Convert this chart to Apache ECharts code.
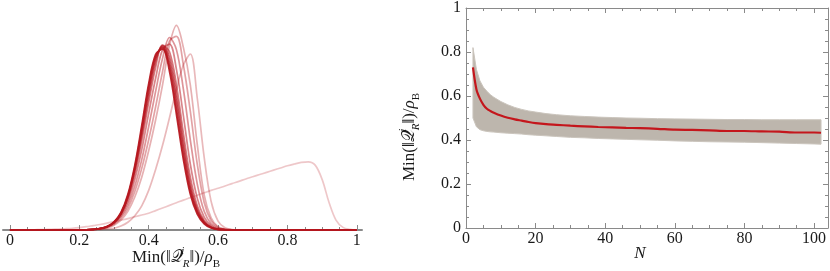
<!DOCTYPE html>
<html><head><meta charset="utf-8">
<script src="https://cdn.jsdelivr.net/npm/echarts@6/dist/echarts.min.js"></script>
<style>html,body{margin:0;padding:0;background:#fff}#c{width:830px;height:271px}</style>
</head><body><div id="c"></div>
<script>
// ---------- Left panel: distributions ----------
const curveX = [0,0.02,0.04,0.06,0.08,0.1,0.12,0.14,0.16,0.18,0.2,0.22,0.24,0.26,0.28,0.3,0.32,0.34,0.36,0.38,0.4,0.42,0.44,0.46,0.48,0.5,0.52,0.54,0.56,0.58,0.6,0.62,0.64,0.66,0.68,0.7,0.72,0.74,0.76,0.78,0.8,0.82,0.84,0.86,0.88,0.9,0.92,0.94,0.96,0.98,1];
const curveA = [0,0,0.005,0.01,0.015,0.02,0.03,0.045,0.06,0.08,0.11,0.15,0.2,0.25,0.31,0.38,0.45,0.52,0.6,0.68,0.76,0.88,1.0,1.12,1.24,1.36,1.47,1.58,1.69,1.8,1.9,2.0,2.11,2.21,2.32,2.42,2.52,2.62,2.72,2.82,2.92,3.0,3.07,3.1,2.95,2.3,1.25,0.45,0.12,0.03,0];
const curveB = [0,0,0,0,0,0,0,0,0,0,0,0.01,0.02,0.03,0.05,0.08,0.18,0.35,0.65,1.1,1.8,2.75,3.85,5.1,6.4,7.5,8.0,6.0,3.3,1.3,0.4,0.1,0.02,0,0,0,0,0,0,0,0,0,0,0,0,0,0,0,0,0,0];
const curveC1 = [0,0,0,0,0,0,0,0,0,0,0,0.01,0.02,0.05,0.1,0.22,0.45,0.85,1.5,2.4,3.6,5.0,6.6,8.4,9.3,8.3,6.6,3.9,1.6,0.55,0.15,0.04,0.01,0,0,0,0,0,0,0,0,0,0,0,0,0,0,0,0,0,0];
const curveC2 = [0,0,0,0,0,0,0,0,0,0,0,0.01,0.02,0.05,0.12,0.26,0.55,1.0,1.75,2.8,4.1,5.6,7.2,8.6,8.8,7.5,5.4,3.0,1.25,0.42,0.12,0.03,0.01,0,0,0,0,0,0,0,0,0,0,0,0,0,0,0,0,0,0];
const curveC3 = [0,0,0,0,0,0,0,0,0,0,0,0.01,0.02,0.05,0.13,0.3,0.62,1.15,2.0,3.2,4.7,6.3,7.8,8.75,8.2,6.4,4.1,2.1,0.85,0.28,0.08,0.02,0,0,0,0,0,0,0,0,0,0,0,0,0,0,0,0,0,0,0];
const curveC4 = [0,0,0,0,0,0,0,0,0,0,0,0.01,0.02,0.06,0.14,0.32,0.68,1.3,2.3,3.65,5.3,6.9,8.2,8.45,7.3,5.2,3.0,1.45,0.58,0.2,0.05,0.01,0,0,0,0,0,0,0,0,0,0,0,0,0,0,0,0,0,0,0];
const curveC5 = [0,0,0,0,0,0,0,0,0,0,0,0.01,0.02,0.06,0.15,0.34,0.72,1.42,2.55,4.05,5.8,7.4,8.4,8.1,6.6,4.4,2.4,1.1,0.43,0.14,0.04,0.01,0,0,0,0,0,0,0,0,0,0,0,0,0,0,0,0,0,0,0];
const curveD1 = [0,0,0,0,0,0,0,0,0,0,0,0.01,0.03,0.07,0.15,0.35,0.74,1.48,2.7,4.3,6.1,7.65,8.38,7.85,6.2,4.0,2.1,0.95,0.37,0.12,0.03,0.01,0,0,0,0,0,0,0,0,0,0,0,0,0,0,0,0,0,0,0];
const curveD2 = [0,0,0,0,0,0,0,0,0,0,0,0.01,0.03,0.07,0.16,0.35,0.75,1.52,2.78,4.45,6.3,7.8,8.32,7.6,5.85,3.7,1.9,0.86,0.34,0.11,0.03,0.01,0,0,0,0,0,0,0,0,0,0,0,0,0,0,0,0,0,0,0];
const curveD3 = [0,0,0,0,0,0,0,0,0,0,0,0.01,0.03,0.07,0.16,0.35,0.75,1.55,2.85,4.6,6.5,7.9,8.28,7.4,5.5,3.4,1.75,0.8,0.32,0.11,0.03,0.01,0,0,0,0,0,0,0,0,0,0,0,0,0,0,0,0,0,0,0];
const curveD4 = [0,0,0,0,0,0,0,0,0,0,0,0.01,0.03,0.07,0.16,0.37,0.8,1.62,2.95,4.75,6.65,7.98,8.22,7.2,5.25,3.2,1.62,0.72,0.28,0.09,0.02,0.01,0,0,0,0,0,0,0,0,0,0,0,0,0,0,0,0,0,0,0];
const leftCurves = [curveA, curveB, curveC1, curveC2, curveC3, curveC4, curveC5, curveD1, curveD2, curveD3, curveD4];
const leftMajorTicks = [0,0.2,0.4,0.6,0.8,1];
const leftMinorTicks = [0.05,0.1,0.15,0.25,0.3,0.35,0.45,0.5,0.55,0.65,0.7,0.75,0.85,0.9,0.95];

// ---------- Right panel: mean and band vs N ----------
const bandN =     [2,3,4,5,6,7,8,10,12,14,16,18,20,23,26,30,34,38,42,46,50,55,60,65,70,75,80,85,90,95,100,102];
const meanVals =  [0.73,0.63,0.588,0.56,0.542,0.532,0.524,0.511,0.501,0.494,0.488,0.482,0.477,0.472,0.469,0.465,0.462,0.459,0.457,0.455,0.454,0.451,0.447,0.446,0.444,0.441,0.441,0.439,0.438,0.434,0.434,0.433];
const bandUpper = [0.82,0.72,0.669,0.64,0.622,0.606,0.594,0.575,0.56,0.548,0.539,0.532,0.527,0.52,0.515,0.51,0.507,0.504,0.502,0.5,0.499,0.497,0.496,0.495,0.494,0.493,0.493,0.492,0.492,0.492,0.492,0.492];
const bandLower = [0.5,0.46,0.447,0.442,0.439,0.437,0.436,0.433,0.431,0.429,0.427,0.424,0.422,0.419,0.416,0.412,0.41,0.407,0.405,0.403,0.401,0.399,0.396,0.394,0.392,0.391,0.39,0.388,0.386,0.384,0.382,0.381];
const rightXMajor = [0,20,40,60,80,100];
const rightXMinor = [5,10,15,25,30,35,45,50,55,65,70,75,85,90,95];

const SERIF = "'Liberation Serif','DejaVu Serif',serif";
const AX = '#8a8a8a';
const TXT = '#1a1a1a';
const labelStyle = {fontFamily: SERIF, fontSize: 16, color: TXT};

const chart = echarts.init(document.getElementById('c'), null, {renderer: 'canvas'});

function xAx(grid, pos, min, max, major, minor, withLine, labels, tickLen) {
  return {
    type: 'value', gridIndex: grid, position: pos, min: min, max: max,
    axisLine: {show: withLine, onZero: false, lineStyle: {color: AX, width: grid === 0 ? 2 : 1}},
    axisTick: {show: true, inside: true, length: tickLen, customValues: minor || major, lineStyle: {color: AX, width: 1}},
    axisLabel: labels ? Object.assign({show: true, margin: 3, customValues: major}, labelStyle) : {show: false},
    splitLine: {show: false}
  };
}

const xAxes = [
  xAx(0, 'bottom', -0.02, 1.015, leftMajorTicks, null, true, true, 5),
  xAx(0, 'bottom', -0.02, 1.015, leftMajorTicks, leftMinorTicks, false, false, 3),
  xAx(1, 'bottom', 0, 104, rightXMajor, null, true, true, 5),
  xAx(1, 'bottom', 0, 104, rightXMajor, rightXMinor, false, false, 3),
  xAx(1, 'top', 0, 104, rightXMajor, null, true, false, 5),
  xAx(1, 'top', 0, 104, rightXMajor, rightXMinor, false, false, 3)
];

function yAx(pos, labels) {
  return {
    type: 'value', gridIndex: 1, position: pos, min: 0, max: 1, interval: 0.2,
    axisLine: {show: true, onZero: false, lineStyle: {color: AX, width: 1}},
    axisTick: {show: true, inside: true, length: 5, lineStyle: {color: AX}},
    minorTick: {show: true, splitNumber: 4, length: 3, lineStyle: {color: AX}},
    axisLabel: labels ? Object.assign({show: true, margin: 5}, labelStyle) : {show: false},
    splitLine: {show: false}, minorSplitLine: {show: false}
  };
}

const series = leftCurves.map((ys, k) => ({
  type: 'line', xAxisIndex: 0, yAxisIndex: 0,
  data: curveX.map((x, i) => [x, ys[i]]),
  smooth: 0.35, showSymbol: false, silent: true, z: 3 + k,
  lineStyle: {color: 'rgb(182,22,30)', width: 1.7, opacity: [0.24,0.3,0.34,0.4,0.46,0.52,0.58,0.66,0.74,0.82,0.9][k]}
}));

series.push({
  type: 'custom', xAxisIndex: 2, yAxisIndex: 1, clip: true, z: 2,
  data: bandN.map((n, i) => [n, bandLower[i], bandUpper[i]]),
  encode: {x: 0, y: [1, 2]},
  renderItem: function (params, api) {
    if (params.dataIndex !== 0) return;
    const pts = [];
    for (let i = 0; i < bandN.length; i++) pts.push(api.coord([bandN[i], bandUpper[i]]));
    for (let i = bandN.length - 1; i >= 0; i--) pts.push(api.coord([bandN[i], bandLower[i]]));
    return {type: 'polygon', shape: {points: pts}, style: {fill: '#bdb6ad', stroke: '#cbc5bd', lineWidth: 1}};
  }
});
series.push({
  type: 'line', xAxisIndex: 2, yAxisIndex: 1,
  data: bandN.map((n, i) => [n, meanVals[i]]),
  smooth: 0.3, showSymbol: false, z: 5,
  lineStyle: {color: '#c4161c', width: 2.2}
});

const titleRich = {
  a: {fontFamily: SERIF, fontSize: 17, lineHeight: 24, color: TXT, fill: TXT},
  q: {fontFamily: "'DejaVu Sans','DejaVu Serif',serif", fontSize: 17, lineHeight: 24, color: TXT, fill: TXT},
  s: {fontFamily: SERIF, fontSize: 11, fontStyle: 'italic', verticalAlign: 'top', lineHeight: 22, width: 0, align: 'left', color: TXT, fill: TXT},
  b: {fontFamily: SERIF, fontSize: 11, fontStyle: 'italic', verticalAlign: 'bottom', lineHeight: 18, color: TXT, fill: TXT},
  r: {fontFamily: SERIF, fontSize: 17, fontStyle: 'italic', lineHeight: 24, color: TXT, fill: TXT},
  u: {fontFamily: SERIF, fontSize: 11, verticalAlign: 'bottom', lineHeight: 18, color: TXT, fill: TXT}
};
const titleText = '{a|Min(‖}{q|𝒬}{s|i}{b|R}{a|‖)/}{r|ρ}{u|B}';

chart.setOption({
  animation: false,
  backgroundColor: '#fff',
  grid: [
    {left: 3, top: 10, width: 359, height: 220},
    {left: 466, top: 6, width: 362, height: 222}
  ],
  xAxis: xAxes,
  yAxis: [
    {type: 'value', gridIndex: 0, min: 0, max: 10, show: false},
    yAx('left', true),
    yAx('right', false)
  ],
  series: series,
  graphic: [
    {type: 'text', x: 176, y: 258, style: {text: titleText, rich: titleRich, align: 'center', verticalAlign: 'middle'}},
    {type: 'text', x: 410, y: 137, rotation: Math.PI / 2, style: {text: titleText, rich: titleRich, align: 'center', verticalAlign: 'middle'}},
    {type: 'text', x: 640, y: 254, style: {text: 'N', fontFamily: SERIF, fontSize: 17, fontStyle: 'italic', fill: TXT, align: 'center', verticalAlign: 'middle'}}
  ]
});
</script></body></html>
